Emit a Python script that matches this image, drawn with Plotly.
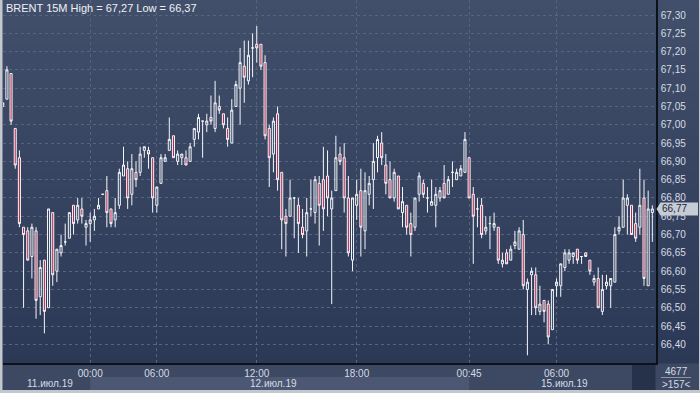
import plotly.graph_objects as go

# ---------------- data (BRENT 15M) ----------------
open_ = [67.05, 67.07, 67.14, 66.99, 66.91, 66.72, 66.71, 66.64, 66.71, 66.53,
         66.63, 66.50, 66.76, 66.60, 66.65, 66.68, 66.69, 66.78, 66.74, 66.77,
         66.72, 66.73, 66.74, 66.77, 66.81, 66.82, 66.77, 66.74, 66.78, 66.86,
         66.88, 66.81, 66.87, 66.87, 66.93, 66.93, 66.91, 66.78, 66.84, 66.90,
         66.93, 66.97, 66.90, 66.91, 66.91, 66.90, 66.96, 66.98, 67.01, 67.00,
         67.02, 66.99, 67.05, 67.03, 66.99, 66.95, 67.05, 67.10, 67.16, 67.12,
         67.21, 67.22, 67.22, 67.17, 66.99, 66.92, 67.03, 66.87, 66.75, 66.75,
         66.80, 66.78, 66.72, 66.71, 66.77, 66.76, 66.84, 66.85, 66.86, 66.77,
         66.82, 66.92, 66.91, 66.80, 66.63, 66.78, 66.82, 66.71, 66.81, 66.85,
         66.91, 66.95, 66.89, 66.85, 66.80, 66.86, 66.76, 66.78, 66.73, 66.72,
         66.81, 66.84, 66.80, 66.78, 66.78, 66.80, 66.84, 66.81, 66.87, 66.85,
         66.86, 66.87, 66.91, 66.81, 66.77, 66.78, 66.71, 66.73, 66.72, 66.72,
         66.62, 66.65, 66.63, 66.67, 66.66, 66.70, 66.55, 66.59, 66.59, 66.49,
         66.52, 66.51, 66.44, 66.56, 66.56, 66.61, 66.63, 66.64, 66.66, 66.64,
         66.65, 66.63, 66.57, 66.58, 66.49, 66.56, 66.56, 66.57, 66.71, 66.72,
         66.78, 66.78, 66.73, 66.72, 66.80, 66.56, 66.76]
high = [67.06, 67.16, 67.14, 66.99, 66.93, 66.72, 66.72, 66.73, 66.72, 66.63,
        66.63, 66.77, 66.76, 66.66, 66.70, 66.73, 66.76, 66.78, 66.80, 66.80,
        66.74, 66.76, 66.77, 66.80, 66.81, 66.86, 66.77, 66.80, 66.88, 66.94,
        66.90, 66.92, 66.90, 66.94, 66.94, 66.94, 66.91, 66.83, 66.92, 66.92,
        67.02, 66.97, 66.93, 66.92, 66.93, 66.95, 66.99, 67.03, 67.01, 67.03,
        67.08, 67.12, 67.08, 67.03, 67.02, 67.07, 67.12, 67.21, 67.23, 67.23,
        67.25, 67.27, 67.22, 67.19, 67.00, 67.02, 67.05, 66.87, 66.77, 66.85,
        66.80, 66.80, 66.77, 66.80, 66.85, 66.86, 66.86, 66.94, 66.93, 66.82,
        66.97, 66.94, 66.95, 66.86, 66.80, 66.85, 66.88, 66.87, 66.86, 66.95,
        66.97, 66.98, 66.92, 66.90, 66.88, 66.86, 66.83, 66.78, 66.76, 66.80,
        66.87, 66.85, 66.83, 66.85, 66.83, 66.83, 66.89, 66.86, 66.90, 66.88,
        66.89, 66.98, 66.91, 66.83, 66.80, 66.80, 66.75, 66.75, 66.76, 66.72,
        66.65, 66.66, 66.67, 66.71, 66.72, 66.74, 66.58, 66.61, 66.61, 66.56,
        66.52, 66.52, 66.55, 66.58, 66.62, 66.66, 66.66, 66.65, 66.66, 66.64,
        66.65, 66.63, 66.59, 66.61, 66.59, 66.59, 66.58, 66.72, 66.75, 66.85,
        66.81, 66.78, 66.76, 66.88, 66.85, 66.82, 66.78]
low = [67.05, 67.07, 67.00, 66.88, 66.72, 66.50, 66.63, 66.58, 66.47, 66.48,
       66.43, 66.50, 66.56, 66.57, 66.64, 66.67, 66.69, 66.70, 66.73, 66.73,
       66.67, 66.68, 66.71, 66.77, 66.81, 66.72, 66.72, 66.72, 66.77, 66.86,
       66.77, 66.78, 66.83, 66.86, 66.91, 66.88, 66.76, 66.76, 66.84, 66.90,
       66.93, 66.91, 66.89, 66.89, 66.89, 66.90, 66.94, 66.96, 66.91, 66.98,
       67.00, 66.98, 67.03, 66.99, 66.94, 66.95, 67.05, 67.00, 67.06, 67.11,
       67.13, 67.17, 67.15, 66.96, 66.83, 66.87, 66.82, 66.66, 66.64, 66.75,
       66.69, 66.65, 66.69, 66.64, 66.75, 66.73, 66.67, 66.71, 66.75, 66.51,
       66.82, 66.89, 66.76, 66.64, 66.60, 66.74, 66.64, 66.66, 66.78, 66.77,
       66.87, 66.89, 66.81, 66.80, 66.79, 66.77, 66.72, 66.70, 66.64, 66.71,
       66.79, 66.80, 66.76, 66.78, 66.72, 66.79, 66.80, 66.81, 66.83, 66.85,
       66.86, 66.87, 66.80, 66.62, 66.72, 66.69, 66.70, 66.66, 66.71, 66.62,
       66.61, 66.62, 66.63, 66.66, 66.66, 66.55, 66.37, 66.48, 66.48, 66.48,
       66.46, 66.40, 66.44, 66.53, 66.53, 66.60, 66.62, 66.62, 66.62, 66.62,
       66.64, 66.59, 66.56, 66.50, 66.48, 66.55, 66.50, 66.57, 66.70, 66.72,
       66.70, 66.70, 66.68, 66.70, 66.56, 66.56, 66.68]
close = [67.06, 67.15, 67.01, 66.89, 66.73, 66.70, 66.63, 66.72, 66.52, 66.61,
         66.49, 66.77, 66.59, 66.66, 66.67, 66.68, 66.76, 66.73, 66.78, 66.75,
         66.73, 66.74, 66.75, 66.78, 66.81, 66.76, 66.73, 66.76, 66.87, 66.89,
         66.80, 66.88, 66.85, 66.92, 66.94, 66.92, 66.80, 66.83, 66.91, 66.91,
         66.96, 66.91, 66.92, 66.92, 66.89, 66.94, 66.99, 67.02, 67.01, 67.01,
         67.01, 67.06, 67.04, 67.00, 66.96, 67.04, 67.11, 67.17, 67.13, 67.19,
         67.21, 67.21, 67.16, 66.97, 66.91, 67.01, 66.85, 66.74, 66.73, 66.80,
         66.80, 66.73, 66.70, 66.76, 66.77, 66.85, 66.78, 66.77, 66.80, 66.80,
         66.91, 66.90, 66.80, 66.65, 66.80, 66.81, 66.72, 66.82, 66.84, 66.90,
         66.96, 66.91, 66.84, 66.80, 66.87, 66.77, 66.79, 66.72, 66.70, 66.80,
         66.86, 66.81, 66.80, 66.79, 66.81, 66.82, 66.80, 66.85, 66.87, 66.87,
         66.88, 66.96, 66.80, 66.75, 66.77, 66.70, 66.72, 66.73, 66.73, 66.63,
         66.63, 66.62, 66.66, 66.68, 66.71, 66.56, 66.57, 66.60, 66.50, 66.51,
         66.49, 66.42, 66.55, 66.57, 66.62, 66.65, 66.65, 66.65, 66.63, 66.64,
         66.64, 66.60, 66.58, 66.50, 66.55, 66.57, 66.58, 66.70, 66.72, 66.80,
         66.80, 66.70, 66.69, 66.78, 66.58, 66.77, 66.77]
bar_index = list(range(len(open_)))

price_ticks = [66.40, 66.45, 66.50, 66.55, 66.60, 66.65, 66.70, 66.75, 66.80, 66.85,
               66.90, 66.95, 67.00, 67.05, 67.10, 67.15, 67.20, 67.25, 67.30]
time_tick_pos = [21, 37, 61, 85, 112, 133]
time_tick_text = ["00:00", "06:00", "12:00", "18:00", "00:45", "06:00"]
date_labels = ["11.июл.19", "12.июл.19", "15.июл.19"]
date_label_pos = [11.3, 65.1, 135.0]
day_band_start, day_band_end = 21, 112
symbol = "BRENT 15M"
bars_total_text = "4677"
bars_visible_text = ">157<"

# ---------------- geometry / style ----------------
W, H = 700, 393
ML, MR, MT, MB = 3, 44, 0, 30
PW, PH = W - ML - MR, H - MT - MB
XR = [0.06, 156.88]
YR = [66.349, 67.341]


def px2paper_x(px):
    return (px - ML) / PW


def px2paper_y(py):
    return (MT + PH - py) / PH


def idx2paper(i):
    return (i - XR[0]) / (XR[1] - XR[0])


def fmt(v):
    return f"{v:.2f}".replace(".", ",")


FONT = "Liberation Sans"
TXT = "#d6dbe4"

fig = go.Figure(go.Candlestick(
    x=bar_index, open=open_, high=high, low=low, close=close,
    increasing=dict(line=dict(color="#f4f6fa", width=1), fillcolor="rgba(0,0,0,0)"),
    decreasing=dict(line=dict(color="#f4f6fa", width=1), fillcolor="#b3284b"),
    whiskerwidth=0, hoverinfo="skip", showlegend=False,
))

shapes = []
# vertical gradient background over plot + right scale
N = 40
top, bot = (66, 79, 107), (44, 57, 86)
for k in range(N):
    t = (k + 0.5) / N
    c = tuple(round(top[j] + (bot[j] - top[j]) * t) for j in range(3))
    shapes.append(dict(type="rect", xref="paper", yref="paper", layer="below",
                       x0=px2paper_x(0), x1=px2paper_x(W),
                       y0=px2paper_y(PH * (k + 1) / N + 0.5), y1=px2paper_y(PH * k / N),
                       line=dict(width=0), fillcolor="rgb(%d,%d,%d)" % c))
# date band for the middle day
shapes.append(dict(type="rect", xref="paper", yref="paper", layer="below",
                   x0=idx2paper(day_band_start), x1=idx2paper(day_band_end),
                   y0=px2paper_y(390), y1=px2paper_y(377),
                   line=dict(width=0), fillcolor="#4b5773"))
# dark scroll box bottom right
shapes.append(dict(type="rect", xref="paper", yref="paper", layer="below",
                   x0=px2paper_x(632), x1=px2paper_x(655.5),
                   y0=px2paper_y(390), y1=px2paper_y(363.5),
                   line=dict(width=0), fillcolor="#26314a"))
# outer light frame
for (x0, x1, y0, y1) in [(0, 2.5, 0, H), (0, W, 390, H), (W - 1, W, 0, H)]:
    shapes.append(dict(type="rect", xref="paper", yref="paper", layer="above",
                       x0=px2paper_x(x0), x1=px2paper_x(x1),
                       y0=px2paper_y(y1), y1=px2paper_y(y0),
                       line=dict(width=0), fillcolor="#c3c7ce"))
# separator line between bar counters
shapes.append(dict(type="line", xref="paper", yref="paper", layer="above",
                   x0=px2paper_x(661), x1=px2paper_x(691),
                   y0=px2paper_y(377.5), y1=px2paper_y(377.5),
                   line=dict(width=1, color="#8e97a9")))
# current price marker
shapes.append(dict(type="path", xref="paper", yref="y", layer="above",
                   xsizemode="pixel", ysizemode="pixel",
                   xanchor=1, yanchor=close[-1],
                   path="M 0.5,0 L 4.5,6.5 L 42,6.5 L 42,-6.5 L 4.5,-6.5 Z",
                   line=dict(width=0), fillcolor="#c6ccd6"))

annotations = [
    dict(text=f"{symbol} High = {fmt(max(high))} Low = {fmt(min(low))}",
         xref="paper", yref="paper", x=px2paper_x(4), y=px2paper_y(8),
         xanchor="left", yanchor="middle", showarrow=False,
         font=dict(family=FONT, size=11, color="#eef1f6")),
    dict(text=fmt(close[-1]), xref="paper", yref="y", x=px2paper_x(660), y=close[-1],
         xanchor="left", yanchor="middle", showarrow=False,
         font=dict(family=FONT, size=10, color="#1c2438")),
    dict(text=bars_total_text, xref="paper", yref="paper", x=px2paper_x(676), y=px2paper_y(371),
         xanchor="center", yanchor="middle", showarrow=False,
         font=dict(family=FONT, size=10, color=TXT)),
    dict(text=bars_visible_text, xref="paper", yref="paper", x=px2paper_x(676), y=px2paper_y(384.5),
         xanchor="center", yanchor="middle", showarrow=False,
         font=dict(family=FONT, size=10, color=TXT)),
]
for lab, pos in zip(date_labels, date_label_pos):
    annotations.append(dict(text=lab, xref="paper", yref="paper", x=idx2paper(pos), y=px2paper_y(383),
                            xanchor="center", yanchor="middle", showarrow=False,
                            font=dict(family=FONT, size=10, color=TXT)))

GRID = "#58647e"
fig.update_layout(
    width=W, height=H, margin=dict(l=ML, r=MR, t=MT, b=MB, pad=0),
    paper_bgcolor="#3d4963", plot_bgcolor="rgba(0,0,0,0)",
    separators=", ", showlegend=False, hovermode=False,
    shapes=shapes, annotations=annotations,
    font=dict(family=FONT, size=10, color=TXT),
    xaxis=dict(range=XR, rangeslider=dict(visible=False), tickmode="array",
               tickvals=time_tick_pos, ticktext=time_tick_text,
               showgrid=True, gridcolor=GRID, gridwidth=1, griddash="3px,3px",
               showline=True, linecolor="#0d1119", linewidth=1.5, zeroline=False,
               ticks="", tickfont=dict(family=FONT, size=10, color=TXT)),
    yaxis=dict(range=YR, side="right", tickmode="array", tickvals=price_ticks,
               ticktext=[fmt(v) for v in price_ticks],
               showgrid=True, gridcolor=GRID, gridwidth=1, griddash="3px,3px",
               showline=True, linecolor="#0d1119", linewidth=1.5, zeroline=False,
               ticks="", ticklabelstandoff=1,
               tickfont=dict(family=FONT, size=10, color=TXT)),
)

fig.write_html("out.html")
